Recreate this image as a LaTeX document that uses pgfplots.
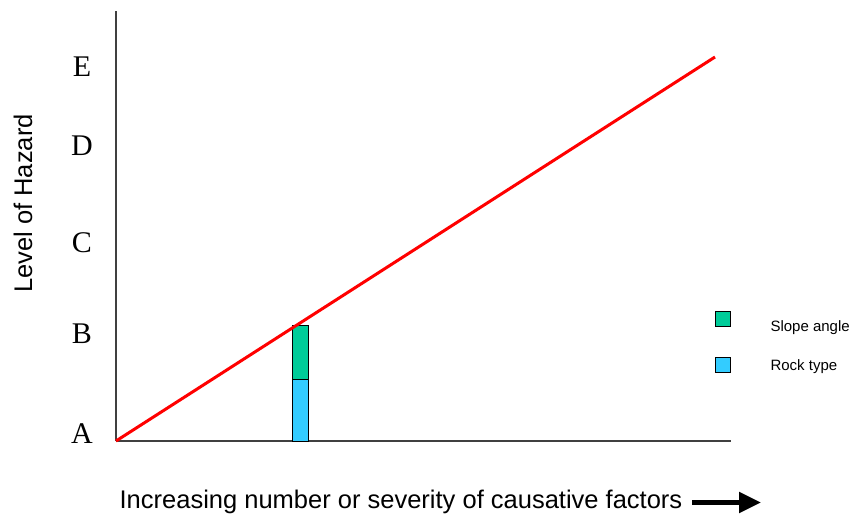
\documentclass[border=0pt]{standalone}
\usepackage{fontspec}
\setmainfont{Liberation Serif}
\setsansfont{Liberation Sans}
\usepackage{pgfplots}
\pgfplotsset{compat=1.18}
\usetikzlibrary{arrows.meta}
\definecolor{slopegreen}{RGB}{0,204,153}
\definecolor{rockblue}{RGB}{51,204,255}
\definecolor{axisgray}{RGB}{64,64,64}

\begin{document}
\begin{tikzpicture}
\useasboundingbox (-116pt,-74pt) rectangle (735pt,441pt);
\begin{axis}[
    x=1pt, y=1pt,
    xmin=0, xmax=615, ymin=0, ymax=430,
    axis lines=left,
    axis line style={-, axisgray, line width=1.4pt},
    clip=false,
    xtick=\empty,
    ytick={7.5,107.5,198,295,374},
    yticklabels={A,B,C,D,E},
    major tick length=0pt,
    yticklabel style={anchor=center, xshift=-34pt, font=\rmfamily\fontsize{30}{36}\selectfont},
    xlabel={Increasing number or severity of causative factors},
    ylabel={Level of Hazard},
    every axis x label/.style={at={(axis description cs:0.4634,-0.1558)}, anchor=base,
        font=\sffamily\fontsize{25.5}{30}\selectfont},
    every axis y label/.style={at={(axis description cs:-0.1512,0.5523)}, anchor=center, rotate=90,
        font=\sffamily\fontsize{25.5}{30}\selectfont},
    legend style={
        at={(axis cs:599,130.3)}, anchor=north west,
        draw=none, fill=none, inner sep=0pt,
        row sep=21.7pt,
        font=\sffamily\fontsize{15}{18}\selectfont,
        nodes={anchor=base west, inner sep=0pt, text height=12pt, text depth=4pt},
        /tikz/every odd column/.append style={column sep=39.5pt},
    },
    ]
    % bars: rock type at the bottom, slope angle on top of it
    \addplot[ybar, bar width=15.3pt, bar shift=0pt, fill=slopegreen, draw=black, line width=0.9pt, forget plot]
        coordinates {(184.3,115.3)};
    \addplot[ybar, bar width=15.3pt, bar shift=0pt, fill=rockblue, draw=black, line width=0.9pt, forget plot]
        coordinates {(184.3,61.7)};
    % hazard line
    \addplot[red, line width=3pt, forget plot] coordinates {(0,0) (599,384)};

    \addlegendimage{legend image code/.code={\draw[fill=slopegreen, draw=black, line width=0.8pt] (0pt,5.3pt) rectangle (15pt,20.3pt);}}
    \addlegendimage{legend image code/.code={\draw[fill=rockblue, draw=black, line width=0.8pt] (0pt,-2.7pt) rectangle (15pt,12.3pt);}}
    \legend{Slope angle, Rock type}

    \draw[line width=5pt, -{Triangle[length=22pt, width=20pt]}] (axis cs:576,-61.5) -- (axis cs:645,-61.5);
\end{axis}
\end{tikzpicture}
\end{document}
